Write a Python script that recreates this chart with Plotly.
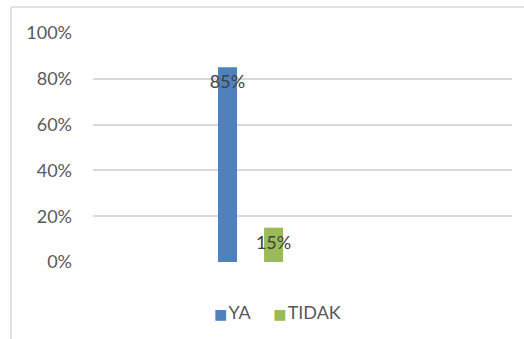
import plotly.graph_objects as go

categories = [""]
series_names = ["YA", "TIDAK"]
ya_values = [0.85]
tidak_values = [0.15]
colors = ["#4F81BD", "#9BBB59"]
tick_vals = [0, 0.2, 0.4, 0.6, 0.8, 1.0]
tick_text = ["0%", "20%", "40%", "60%", "80%", "100%"]

FONT = "Lato, 'Open Sans', sans-serif"

fig = go.Figure()
for name, vals, col in zip(series_names, [ya_values, tidak_values], colors):
    fig.add_trace(go.Bar(
        name=name, x=categories, y=vals, marker=dict(color=col, line=dict(width=0)),
        text=[f"{v:.0%}" for v in vals], textposition="inside",
        insidetextanchor="end", constraintext="none", textangle=0,
        insidetextfont=dict(family=FONT, size=18, color="#404040"),
        hoverinfo="skip", showlegend=False,
    ))

legend_text = "&nbsp;&nbsp;&nbsp;&nbsp;&nbsp;".join(
    f"<span style='color:{c};font-size:14px;font-family:DejaVu Sans'>■</span><span style='font-size:5px'> </span>{n}"
    for n, c in zip(series_names, colors)
)

fig.update_layout(
    width=524, height=339,
    margin=dict(l=93, r=12, t=33, b=77),
    paper_bgcolor="white", plot_bgcolor="white",
    barmode="group", bargap=0.78, bargroupgap=0.587,
    font=dict(family=FONT, size=18, color="#595959"),
    xaxis=dict(type="category", range=[-0.376, 0.624], showticklabels=False,
               showgrid=False, zeroline=False, showline=False, fixedrange=True),
    yaxis=dict(range=[0, 1], tickvals=tick_vals, ticktext=tick_text,
               showgrid=True, gridcolor="#D9D9D9", gridwidth=1.5,
               zeroline=False, showline=False, ticks="", ticklabelstandoff=20,
               tickfont=dict(family=FONT, size=18, color="#595959")),
    showlegend=False,
    annotations=[dict(text=legend_text, xref="paper", yref="paper",
                      x=(277 - 93) / 419, xanchor="center",
                      y=-(312 - 262) / 229, yanchor="middle", showarrow=False,
                      font=dict(family=FONT, size=18, color="#595959"))],
    shapes=[
        dict(type="line", xref="paper", yref="paper", x0=-(93 - 11) / 419, x1=1 + 12 / 419,
             y0=1 + 26 / 229, y1=1 + 26 / 229, line=dict(color="#D9D9D9", width=1.5)),
        dict(type="line", xref="paper", yref="paper", x0=-(93 - 11) / 419, x1=-(93 - 11) / 419,
             y0=1 + 26 / 229, y1=-77 / 229, line=dict(color="#D9D9D9", width=1.5)),
    ],
)

fig.write_html("out.html")
